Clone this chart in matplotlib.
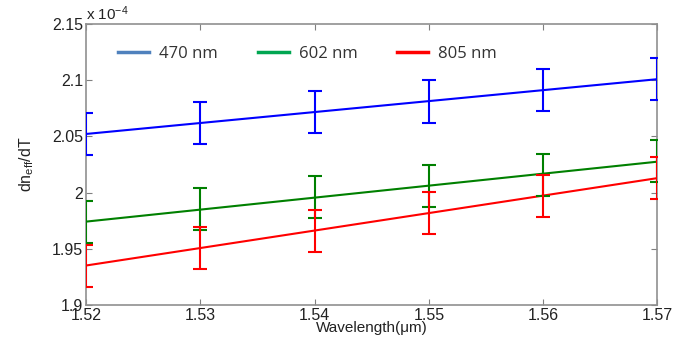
import numpy as np
import matplotlib
matplotlib.use('Agg')
import matplotlib.pyplot as plt
from matplotlib.lines import Line2D
from matplotlib.ticker import FormatStrFormatter

plt.rcParams.update({
    'font.family': 'sans-serif',
    'font.sans-serif': ['Liberation Sans', 'DejaVu Sans'],
    'mathtext.fontset': 'custom',
    'mathtext.rm': 'Liberation Sans',
    'mathtext.it': 'Liberation Sans',
})

# comprimento de onda (um) e dn_eff/dT (em unidades de 1e-4)
comprimento = [1.52, 1.53, 1.54, 1.55, 1.56, 1.57]
dn_470 = [2.052, 2.062, 2.072, 2.081, 2.091, 2.101]
dn_602 = [1.974, 1.985, 1.996, 2.006, 2.016, 2.028]
dn_805 = [1.935, 1.951, 1.966, 1.982, 1.997, 2.013]
erro = [0.0187, 0.0187, 0.0187, 0.0187, 0.0187, 0.0187]

rotulos = ['470 nm', '602 nm', '805 nm']
cores = ['#0000ff', '#008000', '#ff0000']
cores_legenda = ['#4f81bd', '#00a651', '#ff0000']

fig = plt.figure(figsize=(7, 3.47), dpi=100)
ax = fig.add_axes([0.123, 0.121, 0.816, 0.81])

x = np.array(comprimento)
for dados, cor in zip([dn_470, dn_602, dn_805], cores):
    y = np.array(dados)
    # ajuste linear dos pontos
    a, b = np.polyfit(x, y, 1)
    ax.plot(x, a * x + b, color=cor, linewidth=1.5)
    ax.errorbar(x, y, yerr=erro, fmt='none', ecolor=cor,
                elinewidth=1.5, capsize=5.3, capthick=1.5, zorder=3)

ax.set_xlim(1.52, 1.57)
ax.set_ylim(1.9, 2.15)
ax.set_xticks(comprimento)
ax.set_yticks([1.9, 1.95, 2.0, 2.05, 2.1, 2.15])
ax.yaxis.set_major_formatter(FormatStrFormatter('%g'))
ax.tick_params(direction='in', top=True, right=True, length=4,
               color='#808080', labelsize=11.5, labelcolor='#222222', pad=2)
for s in ax.spines.values():
    s.set_color('#909090')
    s.set_linewidth(1.2)

ax.set_xlabel('Wavelength(\u03bcm)', fontsize=11, color='#222222', labelpad=-1)
ax.set_ylabel('dn$_{eff}$/dT', fontsize=11.5, color='#222222', labelpad=12)
ax.text(0.0, 1.005, 'x 10$^{-4}$', transform=ax.transAxes, fontsize=11,
        color='#222222', ha='left', va='bottom')

handles = [Line2D([0], [0], color=c, linewidth=2.5) for c in cores_legenda]
ax.legend(handles, rotulos, ncol=3, frameon=False, loc='center left',
          bbox_to_anchor=(0.03, 0.893), handlelength=1.85,
          handletextpad=0.6, columnspacing=2.4, labelcolor='#333333',
          prop={'family': 'Open Sans', 'size': 12})

fig.savefig('out.png', dpi=100)
